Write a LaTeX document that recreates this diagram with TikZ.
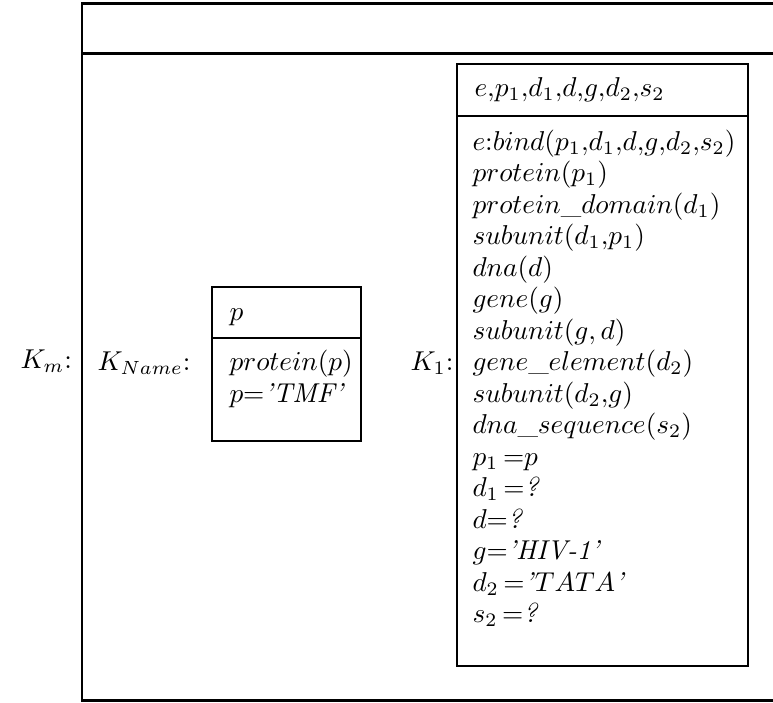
\documentclass[tikz,border=0pt]{standalone}
\usepackage{graphicx}
\newcommand{\tx}[1]{\scalebox{1.05}{#1}}
\begin{document}
\begin{tikzpicture}[x=0.385pt,y=-0.385pt,
  outerline/.style={line width=1.15pt},
  innerline/.style={line width=0.9pt},
  txt/.style={anchor=base west, inner sep=0pt, font=\fontsize{10}{12}\selectfont}]
\useasboundingbox (0,0) rectangle (773,702);
% outer frame (open at right)
\draw[outerline] (773,3) -- (82,3) -- (82,700) -- (773,700);
\draw[outerline] (82,53) -- (773,53);
% small box
\draw[innerline] (212,287) rectangle (361,441);
\draw[innerline] (212,338) -- (361,338);
% K1 box
\draw[innerline] (457,64) rectangle (748,666);
\draw[innerline] (457,116) -- (748,116);
% labels
\node[txt] (km) at (20,368) {\tx{$K_m$:}};
\node[txt] (kname) at (97,370.5) {\tx{$K_{Name}$:}};
\node[txt] (k1) at (410,370.5) {\tx{$K_1$:}};
% small box text
\node[txt] (sp) at (229,320) {\tx{$p$}};
\node[txt] (sa) at (229,370.5) {\tx{$protein(p)$}};
\node[txt] (sb) at (229,402) {\tx{$p{=}$\textit{'TMF'}}};
% K1 header
\node[txt] (kh) at (474,96) {\tx{$e{,}p_1{,}d_1{,}d{,}g{,}d_2{,}s_2$}};
% K1 body
\node[txt] (l0) at (472,150) {\tx{$e{:}bind(p_1{,}d_1{,}d{,}g{,}d_2{,}s_2)$}};
\node[txt] (l1) at (472,181.5) {\tx{$protein(p_1)$}};
\node[txt] (l2) at (472,213) {\tx{$protein$\_$domain(d_1)$}};
\node[txt] (l3) at (472,244.5) {\tx{$subunit(d_1{,}p_1)$}};
\node[txt] (l4) at (472,276) {\tx{$dna(d)$}};
\node[txt] (l5) at (472,307.5) {\tx{$gene(g)$}};
\node[txt] (l6) at (472,339) {\tx{$subunit(g{,}\,d)$}};
\node[txt] (l7) at (472,370.5) {\tx{$gene$\_$element(d_2)$}};
\node[txt] (l8) at (472,402) {\tx{$subunit(d_2{,}g)$}};
\node[txt] (l9) at (472,433.5) {\tx{$dna$\_$sequence(s_2)$}};
\node[txt] (l10) at (472,465) {\tx{$p_1\,{=}p$}};
\node[txt] (l11) at (472,496.5) {\tx{$d_1\,{=}$\textit{?}}};
\node[txt] (l12) at (472,528) {\tx{$d{=}$\textit{?}}};
\node[txt] (l13) at (472,559.5) {\tx{$g{=}$\textit{'HIV-1'}}};
\node[txt] (l14) at (472,591) {\tx{$d_2\,{=}$\textit{'}$TATA$\textit{'}}};
\node[txt] (l15) at (472,622.5) {\tx{$s_2\,{=}$\textit{?}}};
\end{tikzpicture}
\end{document}
